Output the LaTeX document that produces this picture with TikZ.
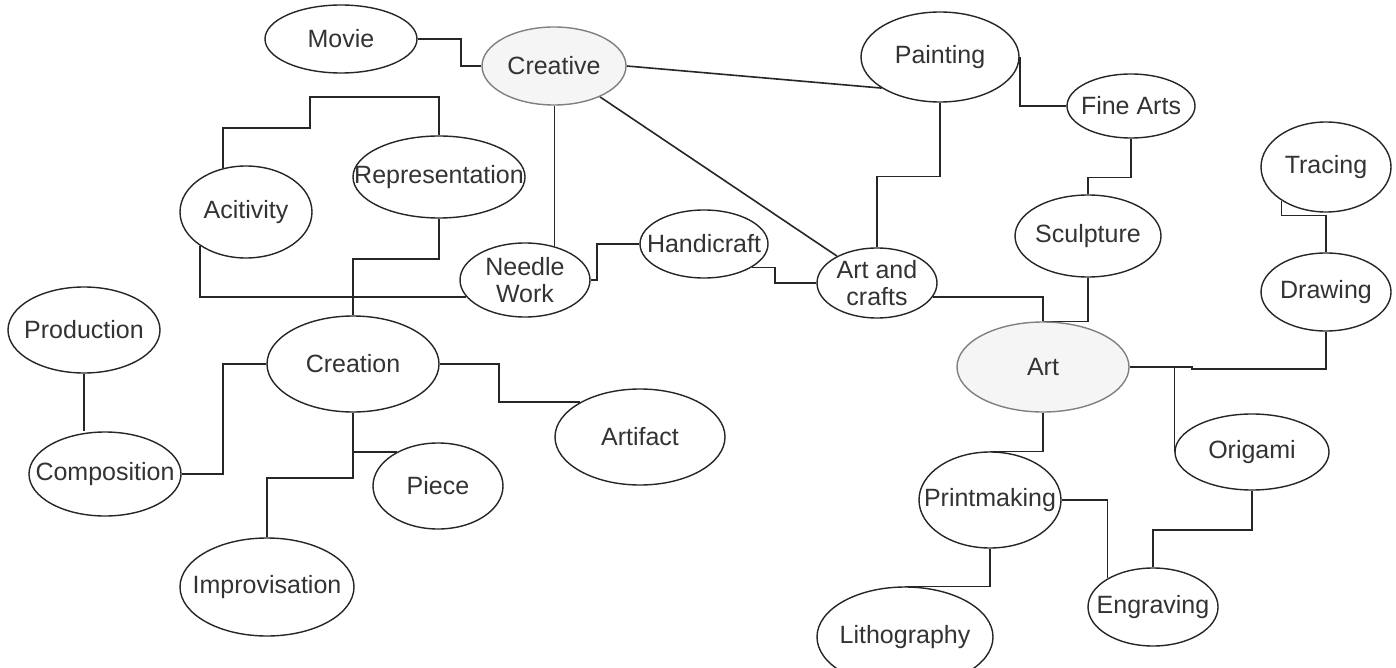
\documentclass[tikz,border=0pt]{standalone}
\usepackage{fontspec}
\setmainfont{Liberation Sans}
\usetikzlibrary{shapes.geometric,backgrounds}
\definecolor{hubfill}{HTML}{F5F5F5}
\begin{document}
\begin{tikzpicture}[x=1pt,y=-1pt,
  ell/.style={ellipse, draw=black!85, line width=1.4pt, fill=white, inner sep=0pt},
  hub/.style={ell, fill=hubfill, draw=black!50},
  txt/.style={font=\fontsize{25}{27}\selectfont, text=black!80, align=center, inner sep=0pt},
  conn/.style={draw=black!85, line width=1.6pt}]
\useasboundingbox (0,0) rectangle (1396,668);
% nodes
\node[ell, minimum width=152pt, minimum height=68pt, label={[txt]center:Movie}] (mv) at (341,39) {};
\node[hub, minimum width=144pt, minimum height=78pt, label={[txt]center:Creative}] (cr) at (554,66) {};
\node[ell, minimum width=158pt, minimum height=90pt, label={[txt]center:Painting}] (pt) at (940,57) {};
\node[ell, minimum width=128pt, minimum height=64pt, label={[txt]center:Fine Arts}] (fa) at (1131,106) {};
\node[ell, minimum width=130pt, minimum height=90pt, label={[txt]center:Tracing}] (tr) at (1326,167) {};
\node[ell, minimum width=130pt, minimum height=78pt, label={[txt]center:Drawing}] (dr) at (1326,292) {};
\node[ell, minimum width=146pt, minimum height=82pt, label={[txt]center:Sculpture}] (sc) at (1088,236) {};
\node[ell, minimum width=120pt, minimum height=70pt, label={[txt]center:{Art and\\crafts}}] (ac) at (877,283) {};
\node[ell, minimum width=128pt, minimum height=68pt, label={[txt]center:Handicraft}] (hc) at (704,244) {};
\node[ell, minimum width=130pt, minimum height=74pt, label={[txt]center:{Needle\\Work}}] (nw) at (525,280) {};
\node[ell, minimum width=172pt, minimum height=82pt, label={[txt]center:Representation}] (rp) at (439,177) {};
\node[ell, minimum width=132pt, minimum height=92pt, label={[txt]center:Acitivity}] (acv) at (246,212) {};
\node[ell, minimum width=152pt, minimum height=86pt, label={[txt]center:Production}] (pd) at (84,330) {};
\node[ell, minimum width=152pt, minimum height=84pt, label={[txt]center:Composition}] (cp) at (105,474) {};
\node[ell, minimum width=172pt, minimum height=96pt, label={[txt]center:Creation}] (cn) at (353,364) {};
\node[ell, minimum width=170pt, minimum height=96pt, label={[txt]center:Artifact}] (af) at (640,437) {};
\node[ell, minimum width=130pt, minimum height=86pt, label={[txt]center:Piece}] (pc) at (438,486) {};
\node[ell, minimum width=174pt, minimum height=98pt, label={[txt]center:Improvisation}] (im) at (267,587) {};
\node[hub, minimum width=172pt, minimum height=90pt, label={[txt]center:Art}] (ar) at (1043,367) {};
\node[ell, minimum width=154pt, minimum height=76pt, label={[txt]center:Origami}] (og) at (1252,452) {};
\node[ell, minimum width=142pt, minimum height=96pt, label={[txt]center:Printmaking}] (pm) at (990,500) {};
\node[ell, minimum width=130pt, minimum height=78pt, label={[txt]center:Engraving}] (eg) at (1153,607) {};
\node[ell, minimum width=176pt, minimum height=100pt, label={[txt]center:Lithography}] (lt) at (905,637) {};
% connectors
\begin{scope}[on background layer]
\fill[white] (0,0) rectangle (1396,668);
\draw[conn] (mv.east) -- ++(43,0) |- (cr.west);
\draw[conn] (cr.east) -- (pt.208);
\draw[conn] (nw.49) -- (nw.49 |- cr.south);
\draw[conn] (cr) -- (ac);
\draw[conn] (pt.south) -- ++(0,74) -| (ac.north);
\draw[conn] (pt.east) |- (fa.west);
\draw[conn] (fa.south) -- ++(0,39) -| (sc.north);
\draw[conn] (sc.south) |- (ar.north);
\draw[conn] (ac.346) -| (ar.north);
\draw[conn] (hc.334) -- ++(23,0) |- (ac.west);
\draw[conn] (nw.east) -- ++(6,0) |- (hc.west);
\draw[conn] (acv.216) |- (nw.196);
\draw[conn] (acv.118) -- ++(0,-40) -- ++(87,0) -- ++(0,-31) -| (rp.north);
\draw[conn] (rp.south) -- ++(0,40) -| (cn.north);
\draw[conn] (pd.south) -- (pd.south |- cp.north);
\draw[conn] (cp.east) -- ++(41,0) |- (cn.west);
\draw[conn] (cn.east) -- ++(59,0) |- (af.150);
\draw[conn] (cn.south) |- (pc.140);
\draw[conn] (cn.south) -- ++(0,65) -| (im.north);
\draw[conn] (ar.east) -- ++(62,0) -- ++(0,2) -| (dr.south);
\draw[conn] (ar.east) -| (og.west);
\draw[conn] (ar.south) |- (pm.north);
\draw[conn] (pm.south) |- (lt.north);
\draw[conn] (pm.east) -| (eg.148);
\draw[conn] (og.south) -- ++(0,39) -| (eg.north);
\draw[conn] (tr.217) -- ++(0,15) -| (dr.north);
\end{scope}
\end{tikzpicture}
\end{document}
